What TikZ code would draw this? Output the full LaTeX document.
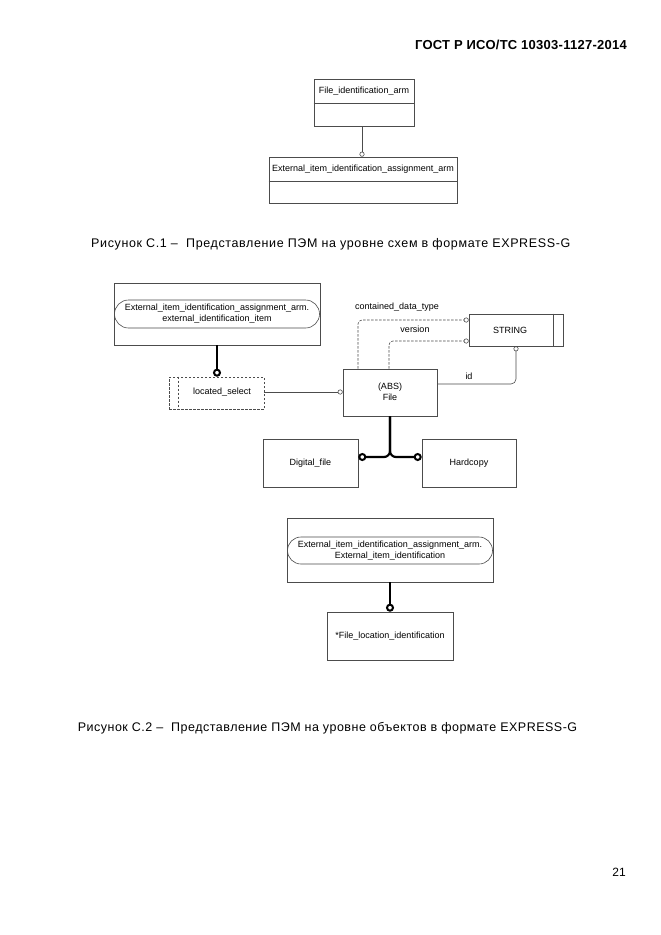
\documentclass[tikz,border=0pt]{standalone}
\usepackage{fontspec}
\setmainfont{Liberation Sans}
\usetikzlibrary{arrows.meta,shapes.misc}
\tikzset{
  ebox/.style={draw=black!70, line width=0.6pt, rectangle, inner sep=0pt},
  txt/.style={font=\fontsize{9}{11}\selectfont, inner sep=0pt, align=center},
  thinl/.style={draw=black!70, line width=0.6pt},
  thk/.style={draw=black, line width=2.2pt},
  ocirc/.style={-{Circle[open,length=5pt,width=5pt,line width=0.6pt]}},
  bcirc/.style={-{Circle[open,length=8pt,width=8pt,line width=2pt]}},
  dsh/.style={draw=black!70, line width=0.6pt, dash pattern=on 2.5pt off 1.5pt},
  captxt/.style={font=\fontsize{12.5}{14}\selectfont\addfontfeature{LetterSpace=4}, inner sep=0pt},
  captxtw/.style={font=\fontsize{12.5}{14}\selectfont\addfontfeature{LetterSpace=5}, inner sep=0pt},
}
\begin{document}
\begin{tikzpicture}[x=1pt,y=-1pt]
\useasboundingbox[fill=white] (0,0) rectangle (661,935);
% header
\node[font=\fontsize{13}{15}\selectfont\bfseries\addfontfeature{LetterSpace=2}, anchor=east, inner sep=0pt] (hdr) at (627,45) {ГОСТ Р ИСО/ТС 10303-1127-2014};

% ---- Figure C.1
\node[ebox, minimum width=100pt, minimum height=47pt] (fid) at (364,102.5) {};
\node[txt] (fidt) at (364,91) {File\_identification\_arm};
\draw[thinl] (fid.west |- 0,103) -- (fid.east |- 0,103);
\node[ebox, minimum width=188pt, minimum height=46pt] (eia) at (363,180) {};
\node[txt] (eiat) at (363,169) {External\_item\_identification\_assignment\_arm};
\draw[thinl] (eia.west |- 0,181) -- (eia.east |- 0,181);
\draw[thinl, ocirc] (fid.south -| 362,0) -- (eia.north -| 362,0);

\node[captxtw, anchor=west] (cap1) at (91,244) {Рисунок С.1 –\ \ Представление ПЭМ на уровне схем в формате EXPRESS-G};

% ---- Figure C.2
\node[ebox, minimum width=206pt, minimum height=62pt] (eii) at (217,314) {};
\node[txt, draw=black!70, line width=0.6pt, shape=rounded rectangle, minimum width=205pt, minimum height=28pt] (eiit) at (217,314) {External\_item\_identification\_assignment\_arm.\\external\_identification\_item};
\node[ebox, dsh, minimum width=95pt, minimum height=32pt] (loc) at (216.5,393) {};
\draw[dsh] (178,0 |- loc.north) -- (178,0 |- loc.south);
\node[txt] (loct) at (222,392) {located\_select};
\draw[thk, bcirc] (eii.south -| 217,0) -- (loc.north -| 217,0);

\node[ebox, minimum width=94pt, minimum height=47pt] (file) at (390,392.5) {};
\node[txt] (filet) at (390,392) {(ABS)\\File};
\draw[thinl, ocirc] (loc.east |- 0,392) -- (file.west |- 0,392);

\node[ebox, minimum width=94pt, minimum height=32pt] (str) at (516,330) {};
\node[txt] (strt) at (510,330) {STRING};
\draw[thinl] (553,0 |- str.north) -- (553,0 |- str.south);

\draw[dsh, rounded corners=4pt, ocirc] (358,0 |- file.north) -- (358,320) -- (str.west |- 0,320);
\draw[dsh, rounded corners=4pt, ocirc] (389,0 |- file.north) -- (389,341) -- (str.west |- 0,341);
\node[txt] (lcdt) at (397,307) {contained\_data\_type};
\node[txt] (lver) at (415,329) {version};
\draw[thinl, rounded corners=5pt, ocirc] (file.east |- 0,384) -- (516,384) -- (str.south -| 516,0);
\node[txt] (lid) at (469,376) {id};

\node[ebox, minimum width=95pt, minimum height=48pt] (dig) at (310.5,463) {};
\node[txt] (digt) at (310.5,463) {Digital\_file};
\node[ebox, minimum width=94pt, minimum height=48pt] (hc) at (469,463) {};
\node[txt] (hct) at (469,463) {Hardcopy};
\draw[thk, rounded corners=6pt, bcirc] (file.south) -- (390,457) -- (dig.east |- 0,457);
\draw[thk, rounded corners=6pt, bcirc] (file.south) -- (390,457) -- (hc.west |- 0,457);

% ---- bottom diagram
\node[ebox, minimum width=206pt, minimum height=64pt] (eid) at (390,550) {};
\node[txt, draw=black!70, line width=0.6pt, shape=rounded rectangle, minimum width=205pt, minimum height=27pt] (eidt) at (390,550.5) {External\_item\_identification\_assignment\_arm.\\External\_item\_identification};
\node[ebox, minimum width=126pt, minimum height=48pt] (fli) at (390,636) {};
\node[txt] (flit) at (390,636) {*File\_location\_identification};
\draw[thk, bcirc] (eid.south) -- (fli.north);

\node[captxt] (cap2) at (327.5,728) {Рисунок С.2 –\ \ Представление ПЭМ на уровне объектов в формате EXPRESS-G};

\node[font=\fontsize{12}{14}\selectfont, anchor=east, inner sep=0pt] (pg) at (626,872) {21};
\end{tikzpicture}
\end{document}
